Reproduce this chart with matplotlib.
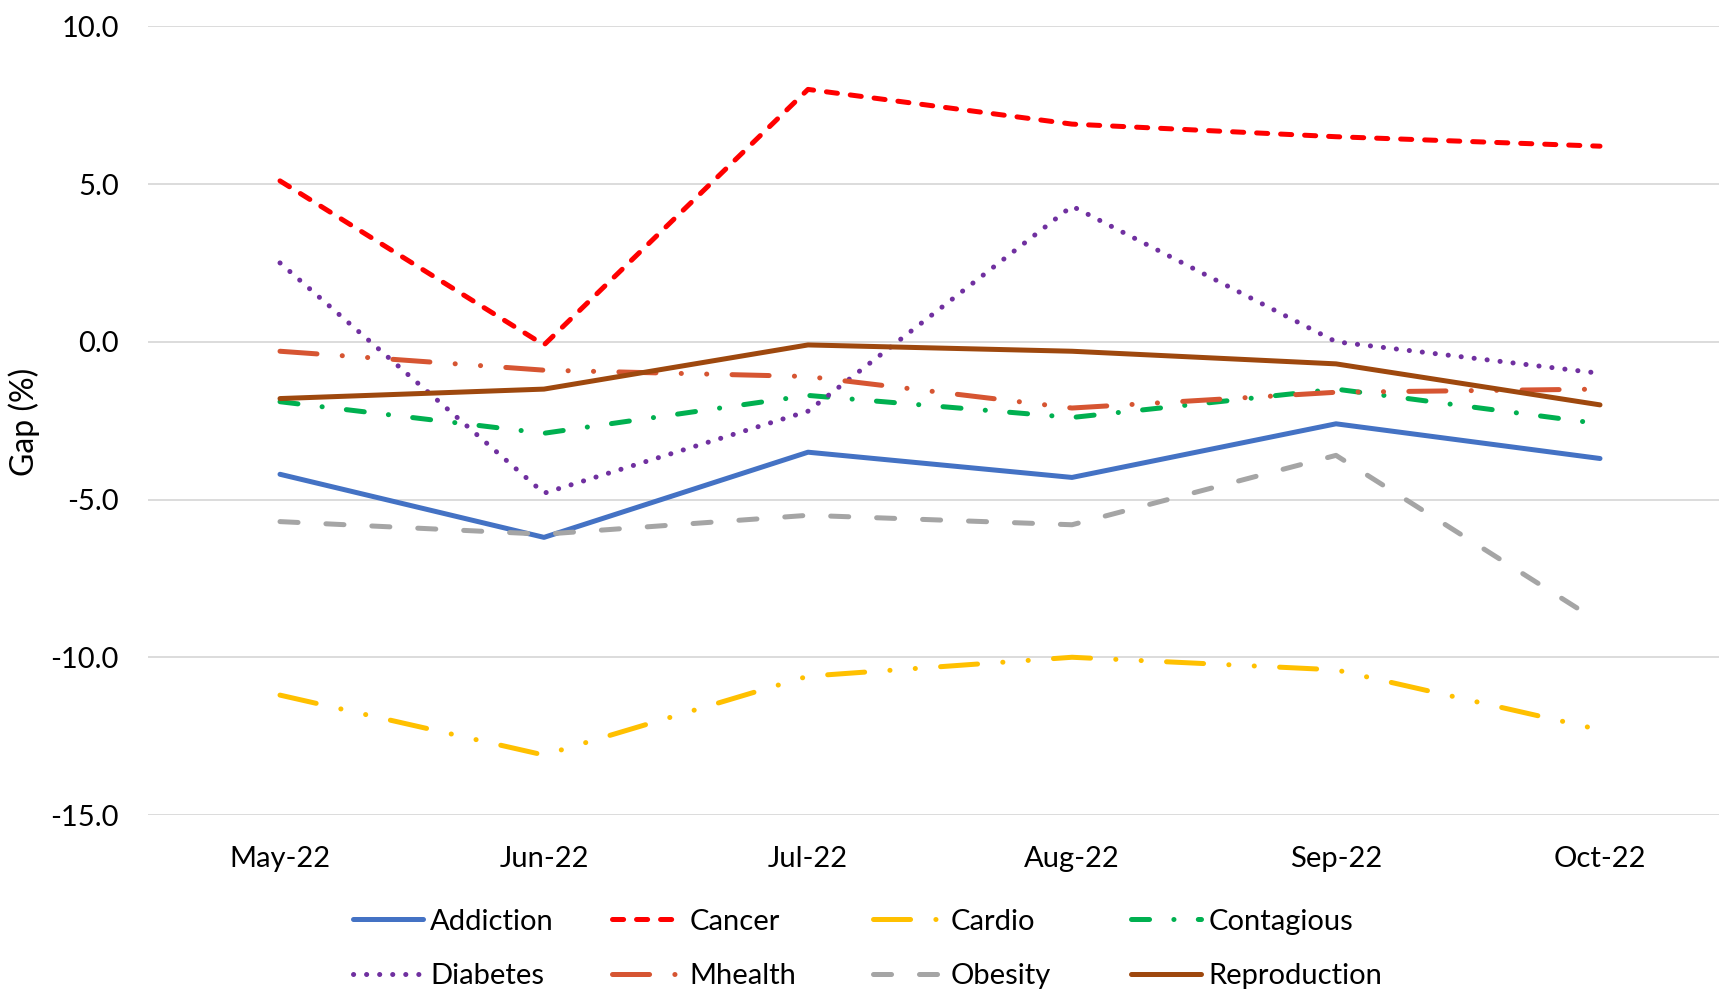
import matplotlib
matplotlib.use("Agg")
import matplotlib.pyplot as plt
from matplotlib.lines import Line2D

plt.rcParams['font.family'] = ['Lato', 'DejaVu Sans']
plt.rcParams['axes.unicode_minus'] = False
plt.rcParams['lines.scale_dashes'] = False

months = ["May-22", "Jun-22", "Jul-22", "Aug-22", "Sep-22", "Oct-22"]
addiction    = [-4.2, -6.2, -3.5, -4.3, -2.6, -3.7]
cancer       = [5.1, -0.1, 8.0, 6.9, 6.5, 6.2]
cardio       = [-11.2, -13.1, -10.6, -10.0, -10.4, -12.3]
contagious   = [-1.9, -2.9, -1.7, -2.4, -1.5, -2.6]
diabetes     = [2.5, -4.8, -2.2, 4.3, 0.0, -1.0]
mhealth      = [-0.3, -0.9, -1.1, -2.1, -1.6, -1.5]
obesity      = [-5.7, -6.1, -5.5, -5.8, -3.6, -8.9]
reproduction = [-1.8, -1.5, -0.1, -0.3, -0.7, -2.0]

names = ["Addiction", "Cancer", "Cardio", "Contagious",
         "Diabetes", "Mhealth", "Obesity", "Reproduction"]
series = [addiction, cancer, cardio, contagious,
          diabetes, mhealth, obesity, reproduction]
colors = ["#4472C4", "#FF0000", "#FFC000", "#00B050",
          "#7030A0", "#D65532", "#A5A5A5", "#9E480E"]
styles = ["-",
          (0, (8, 9.3)),
          (0, (26.7, 18.2, 0.1, 18.2, 0.1, 18.2)),
          (0, (13, 17.5, 0.1, 17.5)),
          (0, (0.1, 9.3)),
          (0, (26.7, 18.2, 0.1, 18.2, 0.1, 18.2)),
          (0, (13, 20.1)),
          "-"]

fig = plt.figure(figsize=(17.19, 9.9), dpi=100)
ax = fig.add_axes([148/1719, 1-815/990, (1732-148)/1719, (815-26.3)/990])

x = list(range(len(months)))
lines = []
for nm, ys, c, ls in zip(names, series, colors, styles):
    ln, = ax.plot(x, ys, color=c, lw=3.6, linestyle=ls, label=nm,
                  dash_capstyle='round', solid_capstyle='round',
                  solid_joinstyle='round', dash_joinstyle='round')
    lines.append(ln)

ax.set_xlim(-0.5, 5.5)
ax.set_ylim(-15, 10)
ax.set_yticks([-15, -10, -5, 0, 5, 10])
ax.set_yticklabels([f"{v:.1f}" for v in [-15, -10, -5, 0, 5, 10]])
ax.set_xticks(x)
ax.set_xticklabels(months)
ax.tick_params(axis='both', length=0, labelsize=21, colors='black')
ax.tick_params(axis='y', pad=21)
ax.tick_params(axis='x', pad=22)
ax.grid(axis='y', color='#D9D9D9', lw=1.3)
ax.set_axisbelow(True)
for s in ax.spines.values():
    s.set_visible(False)

fig.text(24/1719, 1-422/990, "Gap (%)", rotation=90, fontsize=23,
         ha='center', va='center')

col_x = [353, 612, 873, 1131]
for j in range(4):
    hs = [lines[j], lines[j+4]]
    lg = fig.legend(hs, [names[j], names[j+4]], loc='center left',
                    bbox_to_anchor=(col_x[j]/1719, 1-949/990),
                    frameon=False, fontsize=21, ncol=1, borderpad=0,
                    borderaxespad=0, handlelength=2.4, handletextpad=0.25,
                    labelspacing=0.98)

fig.savefig("out.png", dpi=100, facecolor='white')
